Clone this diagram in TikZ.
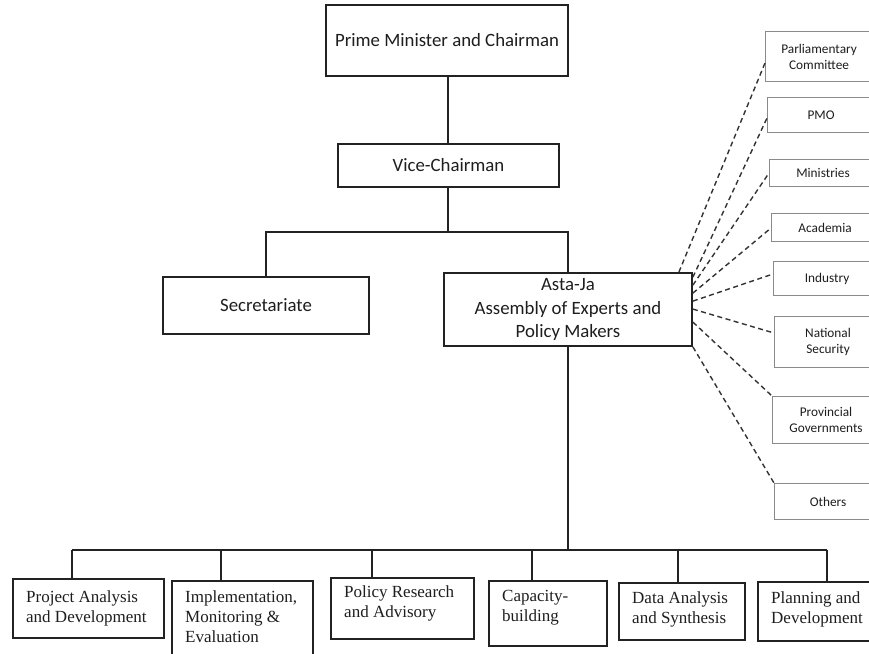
\documentclass[tikz,border=0pt]{standalone}
\usepackage{fontspec}
\setmainfont{Carlito}
\newfontfamily\unitface{Liberation Serif}
\usetikzlibrary{calc}

\definecolor{ink}{HTML}{1E1E1E}
\definecolor{boxline}{HTML}{222222}
\definecolor{sideline}{HTML}{8A8A8A}
\definecolor{dashline}{HTML}{333333}

\begin{document}
\begin{tikzpicture}[x=1pt, y=-1pt,
  mainbox/.style={draw=boxline, line width=1.8pt, inner sep=0pt, text=ink,
    align=center, font=\fontsize{18.8}{23.5}\selectfont},
  sidebox/.style={draw=sideline, line width=1.1pt, inner sep=0pt, text=ink,
    minimum width=107pt, anchor=north west, align=center,
    font=\fontsize{13.3}{16}\selectfont},
  unitbox/.style={draw=boxline, line width=1.8pt, inner sep=0pt, anchor=north west},
  unittext/.style={inner sep=0pt, anchor=north west, align=left, text=ink,
    font=\unitface\fontsize{17}{20}\selectfont},
  link/.style={draw=boxline, line width=1.8pt},
  liaison/.style={draw=dashline, line width=1.4pt, dash pattern=on 5pt off 3.5pt},
]
\fill[white] (0,0) rectangle (869,653);
\useasboundingbox (0,0) rectangle (869,653);

% leadership
\node[mainbox, minimum width=242pt, minimum height=71pt] (pm) at (447,40.5) {Prime Minister and Chairman};
\node[mainbox, minimum width=221pt, minimum height=43pt] (vc) at (448.5,165.5) {Vice-Chairman};
\node[mainbox, minimum width=206pt, minimum height=57pt] (sec) at (266,305.5) {Secretariate};
\node[mainbox, minimum width=248pt, minimum height=73pt] (asta) at (568,309.5) {Asta-Ja\\Assembly of Experts and\\Policy Makers};

\coordinate (split) at (448,232);
\draw[link] (split |- pm.south) -- (split |- vc.north);
\draw[link] (split |- vc.south) -- (split);
\draw[link] (sec.north) -- (sec.north |- split) -| (asta.north);

% stakeholder column
\node[sidebox, minimum height=50pt] (r1) at (765,31) {Parliamentary\\Committee};
\node[sidebox, minimum height=35pt] (r2) at (767,97) {PMO};
\node[sidebox, minimum height=27pt] (r3) at (769,159) {Ministries};
\node[sidebox, minimum height=28pt] (r4) at (771,213) {Academia};
\node[sidebox, minimum height=34pt] (r5) at (773,261) {Industry};
\node[sidebox, minimum height=51pt] (r6) at (774,316) {National\\Security};
\node[sidebox, minimum height=47pt] (r7) at (772,396) {Provincial\\Governments};
\node[sidebox, minimum height=36pt] (r8) at (774,483) {Others};

\draw[liaison] ([xshift=-14pt]asta.north east) -- ([yshift=-32pt]r1.north west);
\draw[liaison] ([yshift=-5pt]asta.north east) -- ([yshift=-21pt]r2.north west);
\draw[liaison] ([yshift=-13pt]asta.north east) -- ([yshift=-14pt]r3.north west);
\draw[liaison] ([yshift=-21pt]asta.north east) -- ([yshift=-15pt]r4.north west);
\draw[liaison] ([yshift=-29pt]asta.north east) -- ([yshift=-13pt]r5.north west);
\draw[liaison] ([yshift=-37pt]asta.north east) -- ([yshift=-17pt]r6.north west);
\draw[liaison] ([yshift=-50pt]asta.north east) -- (r7.north west);
\draw[liaison] (asta.south east) -- (r8.north west);

% working units
\node[unitbox, minimum width=151pt, minimum height=59pt] (u1) at (12,578) {};
\node[unitbox, minimum width=141pt, minimum height=90pt] (u2) at (171,580) {};
\node[unitbox, minimum width=143pt, minimum height=61pt] (u3) at (330,577) {};
\node[unitbox, minimum width=118pt, minimum height=65pt] (u4) at (488,580) {};
\node[unitbox, minimum width=126pt, minimum height=57pt] (u5) at (618,582) {};
\node[unitbox, minimum width=130pt, minimum height=59pt] (u6) at (757,581) {};

\node[unittext] (t1) at (26,590.4) {Project Analysis\\and Development};
\node[unittext] (t2) at (185,590.4) {Implementation,\\Monitoring \&\\Evaluation};
\node[unittext] (t3) at (344,585.4) {Policy Research\\and Advisory};
\node[unittext] (t4) at (502,590.4) {Capacity-\\building};
\node[unittext] (t5) at (632,591.4) {Data Analysis\\and Synthesis};
\node[unittext] (t6) at (771,591.4) {Planning and\\Development};

\coordinate (s1) at (72,550);
\coordinate (s2) at (221,550);
\coordinate (s3) at (372,550);
\coordinate (s4) at (532,550);
\coordinate (s5) at (678,550);
\coordinate (s6) at (827,550);
\draw[link] (asta.south) -- (asta.south |- s1);
\draw[link] (s1) -- (s6);
\foreach \i in {1,...,6} {
  \draw[link] (s\i) -- (s\i |- u\i.north);
}
\end{tikzpicture}
\end{document}
